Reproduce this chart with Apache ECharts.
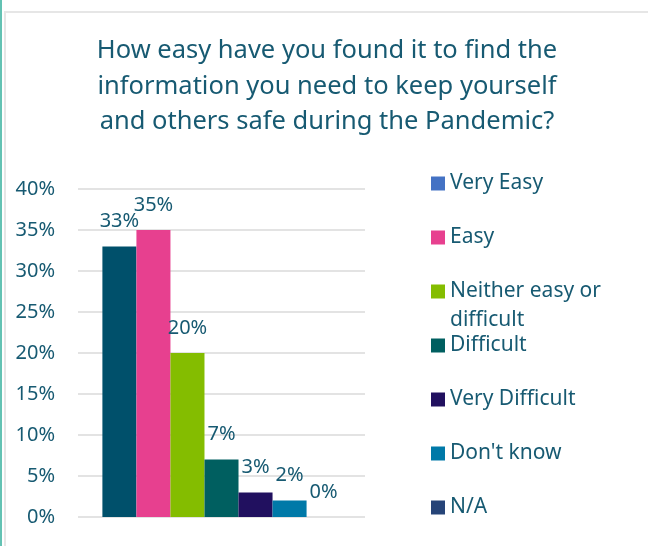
<!DOCTYPE html>
<html>
<head>
<meta charset="utf-8">
<script src="https://cdn.jsdelivr.net/npm/echarts@6/dist/echarts.min.js"></script>
<style>
  html, body { margin: 0; padding: 0; background: #fff; }
  #frame-left { position: absolute; left: 0; top: 0; width: 2px; height: 546px; background: #63c2b3; }
  #frame-box { position: absolute; left: 4px; top: 11px; width: 700px; height: 600px; border: 2px solid #e6e6e6; box-sizing: border-box; }
  #chart { position: absolute; left: 0; top: 0; width: 648px; height: 546px; }
</style>
</head>
<body>
<div id="frame-left"></div>
<div id="frame-box"></div>
<div id="chart"></div>
<script>
// 数据
const seriesNames = ['Very Easy', 'Easy', 'Neither easy or\ndifficult', 'Difficult', 'Very Difficult', "Don't know", 'N/A']
const seriesValues = [33, 35, 20, 7, 3, 2, 0]
const barColors = ['#00506b', '#e7408f', '#84bd00', '#005f60', '#21105f', '#0079a8', '#264478']
const legendColors = ['#4472c4', '#e7408f', '#84bd00', '#005f60', '#21105f', '#0079a8', '#264478']
const yTicks = [0, 5, 10, 15, 20, 25, 30, 35, 40]

const textColor = '#175a72'
const font = 'Noto Sans'

const chart = echarts.init(document.getElementById('chart'))

// 每个图例单独放一个，位置好控制
const legends = seriesNames.map((name, i) => {
  const wrapped = name.indexOf('\n') >= 0
  return {
    orient: 'vertical',
    left: 431,
    top: wrapped ? 169 + i * 54 - 29 : 169 + i * 54,
    padding: 0,
    itemWidth: 14,
    itemHeight: 14,
    icon: 'rect',
    selectedMode: false,
    // 换行的那一项前面加空行，让色块对齐第一行
    formatter: wrapped ? n => '\n' + n : '{name}',
    data: [{ name: name, itemStyle: { color: legendColors[i] } }],
    textStyle: {
      color: textColor,
      fontSize: 21,
      fontFamily: font,
      lineHeight: 29
    }
  }
})

chart.setOption({
  title: {
    text: 'How easy have you found it to find the\ninformation you need to keep yourself\nand others safe during the Pandemic?',
    left: 327,
    textAlign: 'center',
    top: 33,
    padding: 0,
    textStyle: {
      color: textColor,
      fontSize: 25.5,
      fontWeight: 'normal',
      fontFamily: font,
      lineHeight: 35.5
    }
  },
  legend: legends,
  grid: {
    left: 78,
    right: 283,
    top: 189,
    bottom: 29
  },
  xAxis: {
    type: 'category',
    data: [''],
    axisLine: { show: false },
    axisTick: { show: false },
    axisLabel: { show: false }
  },
  yAxis: {
    type: 'value',
    min: yTicks[0],
    max: yTicks[yTicks.length - 1],
    interval: 5,
    axisLine: { show: false },
    axisTick: { show: false },
    axisLabel: {
      formatter: '{value}%',
      color: textColor,
      fontSize: 20,
      fontFamily: font,
      margin: 23
    },
    splitLine: {
      lineStyle: { color: '#e3e3e3', width: 2 }
    }
  },
  series: seriesNames.map((name, i) => ({
    name: name,
    type: 'bar',
    data: [seriesValues[i]],
    barGap: '0%',
    barCategoryGap: '17%',
    itemStyle: { color: barColors[i] },
    label: {
      show: true,
      position: 'top',
      distance: 15,
      formatter: '{c}%',
      color: textColor,
      fontSize: 20,
      fontFamily: font,
      lineHeight: 20
    }
  }))
})
</script>
</body>
</html>
